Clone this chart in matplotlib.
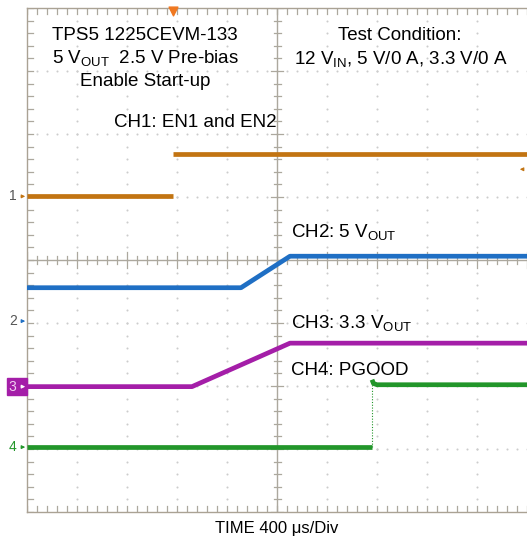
import numpy as np
import matplotlib
matplotlib.use("Agg")
import matplotlib.pyplot as plt

plt.rcParams['font.family'] = ['Liberation Sans', 'DejaVu Sans']
plt.rcParams['mathtext.default'] = 'regular'

# Scope traces, time and level in divisions (10 x 8 screen)
ch1_t = [0.0, 2.92]
ch1_v = [5.01, 5.01]
ch1_hi_t = [2.92, 10.0]
ch1_hi_v = [5.68, 5.68]

ch2_t = [0.0, 4.28, 5.26, 10.0]
ch2_v = [3.56, 3.56, 4.06, 4.06]

ch3_t = [0.0, 3.30, 5.26, 10.0]
ch3_v = [1.99, 1.99, 2.68, 2.68]

ch4_t = [0.0, 6.90]
ch4_v = [1.03, 1.03]
ch4_hi_t = [6.90, 6.93, 7.0, 10.0]
ch4_hi_v = [2.10, 2.04, 2.02, 2.02]

# channel ground markers (level in divisions)
markers = {'1': 5.01, '2': 3.03, '3': 1.99, '4': 1.03}
trigger_t = 2.92
trigger_level = 5.44

c1 = '#c27412'
c2 = '#1f6fc4'
c3 = '#a41ea8'
c4 = '#22962a'

fig = plt.figure(figsize=(5.27, 5.43), dpi=100)
ax = fig.add_axes([27 / 527, 31 / 543, 500 / 527, 504 / 543])
ax.set_xlim(0, 10)
ax.set_ylim(0, 8)
ax.set_xticks([])
ax.set_yticks([])
for s in ax.spines.values():
    s.set_color('#aaa294')
    s.set_linewidth(1.0)
ax.spines['right'].set_visible(False)

# dotted graticule
minor = np.arange(0, 10.01, 0.2)
minor_y = np.arange(0, 8.01, 0.2)
for gx in range(1, 10):
    if gx == 5:
        continue
    ax.scatter(np.full(minor_y.size, gx), minor_y, s=2.2, color='#cccccc', lw=0, zorder=1)
for gy in range(1, 8):
    if gy == 4:
        continue
    ax.scatter(minor, np.full(minor.size, gy), s=2.2, color='#cccccc', lw=0, zorder=1)

# center axes with ticks
tc = '#aca89e'
ax.axvline(5, color=tc, lw=1.0, zorder=1)
ax.axhline(4, color=tc, lw=1.0, zorder=1)
for x in minor:
    h = 0.12 if abs(x - round(x)) < 1e-6 else 0.07
    ax.plot([x, x], [4 - h, 4 + h], color=tc, lw=0.9, zorder=1)
    ax.plot([x, x], [8, 8 - 0.09], color=tc, lw=0.9, zorder=1)
    ax.plot([x, x], [0, 0.09], color=tc, lw=0.9, zorder=1)
for y in minor_y:
    h = 0.12 if abs(y - round(y)) < 1e-6 else 0.07
    ax.plot([5 - h, 5 + h], [y, y], color=tc, lw=0.9, zorder=1)
    ax.plot([0, 0.12], [y, y], color=tc, lw=0.9, zorder=1)

# traces
lw = 3.4
ax.plot(ch1_t, ch1_v, color=c1, lw=lw, solid_capstyle='butt', zorder=3)
ax.plot(ch1_hi_t, ch1_hi_v, color=c1, lw=lw, solid_capstyle='butt', zorder=3)
ax.plot(ch2_t, ch2_v, color=c2, lw=lw, solid_capstyle='butt', zorder=3)
ax.plot(ch3_t, ch3_v, color=c3, lw=lw, solid_capstyle='butt', zorder=3)
ax.plot(ch4_t, ch4_v, color=c4, lw=lw, solid_capstyle='butt', zorder=3)
ax.plot(ch4_hi_t, ch4_hi_v, color=c4, lw=lw, solid_capstyle='butt', zorder=3)
ax.plot([ch4_t[-1], ch4_t[-1]], [ch4_v[-1], ch4_hi_v[0]], color=c4, lw=0.8,
        ls=(0, (1, 1.5)), zorder=3)

# channel markers on the left
mcol = {'1': c1, '2': c2, '3': c3, '4': c4}
for k, lev in markers.items():
    if k == '3':
        ax.add_patch(plt.Rectangle((-0.4, lev - 0.13), 0.4, 0.26, color=c3,
                                   clip_on=False, zorder=4))
        ax.text(-0.3, lev, k, color='#f0d0f0', fontsize=10, ha='center', va='center',
                clip_on=False, zorder=5)
        acol = 'white'
    else:
        ax.text(-0.28, lev, k, color='#555555' if k != '4' else c4, fontsize=10,
                ha='center', va='center', clip_on=False)
        acol = mcol[k]
    ax.annotate('', xy=(0.02, lev), xytext=(-0.17, lev),
                arrowprops=dict(arrowstyle='-|>', color=acol, lw=0.8,
                                mutation_scale=5), annotation_clip=False, zorder=5)

# trigger markers
ax.scatter([trigger_t], [7.96], marker='v', s=40, color='#f07820', clip_on=False, zorder=5)
ax.annotate('', xy=(9.8, trigger_level), xytext=(9.98, trigger_level),
            arrowprops=dict(arrowstyle='-|>', color=c1, lw=0.8, mutation_scale=5),
            annotation_clip=False, zorder=5)

# labels
fs = 13.5
ax.text(2.36, 7.57, 'TPS5 1225CEVM-133', fontsize=fs, ha='center', va='center')
ax.text(2.36, 7.21, '5 V$_{OUT}$  2.5 V Pre-bias', fontsize=fs, ha='center', va='center')
ax.text(2.36, 6.84, 'Enable Start-up', fontsize=fs, ha='center', va='center')
ax.text(3.36, 6.19, 'CH1: EN1 and EN2', fontsize=fs, ha='center', va='center')
ax.text(7.46, 7.57, 'Test Condition:', fontsize=fs, ha='center', va='center')
ax.text(7.48, 7.19, '12 V$_{IN}$, 5 V/0 A, 3.3 V/0 A', fontsize=fs, ha='center', va='center')
ax.text(5.28, 4.44, 'CH2: 5 V$_{OUT}$', fontsize=fs, ha='left', va='center')
ax.text(5.28, 3.0, 'CH3: 3.3 V$_{OUT}$', fontsize=fs, ha='left', va='center')
ax.text(5.28, 2.25, 'CH4: PGOOD', fontsize=fs, ha='left', va='center')
ax.text(5.0, -0.26, 'TIME 400 μs/Div', fontsize=12, ha='center', va='center',
        clip_on=False)

fig.savefig('out.png', dpi=100)
